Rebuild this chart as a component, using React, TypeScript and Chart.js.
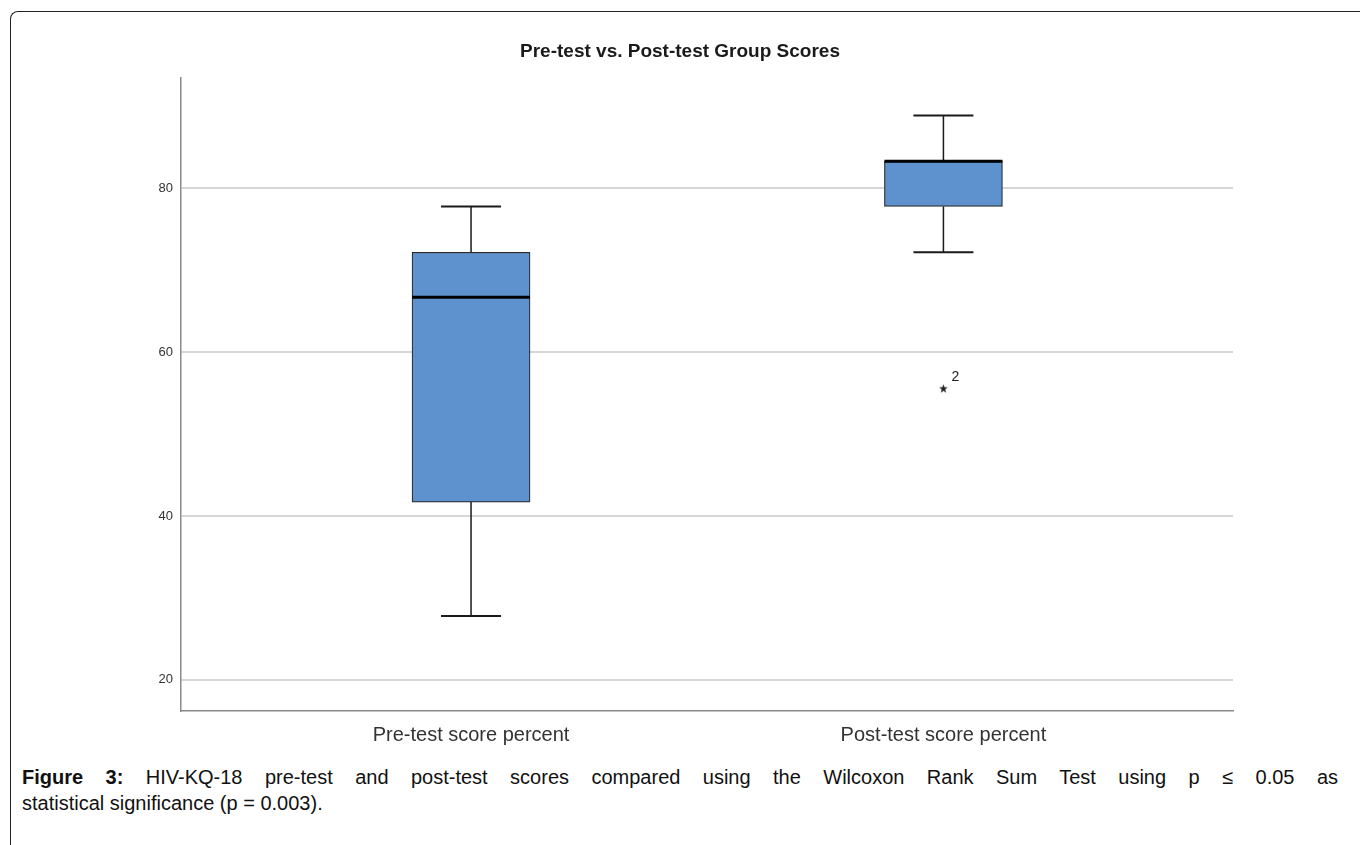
import React, { useEffect, useRef } from "react";
import { Chart, registerables } from "chart.js";

Chart.register(...registerables);

// Box plot summaries for the HIV-KQ-18 percent scores
const categories = ["Pre-test score percent", "Post-test score percent"];
const whiskerLow = [27.8, 72.2];
const quartile1 = [41.7, 77.8];
const medians = [66.7, 83.3];
const quartile3 = [72.2, 83.3];
const whiskerHigh = [77.8, 88.9];
const outlierGroup = [2];
const outlierValue = [55.6];
const outlierCase = ["2"];
const yTicks = [20, 40, 60, 80];

const BOX_FILL = "#5e92cf";
const INK = "#1a1a1a";
const SANS = "'Liberation Sans', Arial, sans-serif";

function makeStar(size: number): HTMLCanvasElement {
  const c = document.createElement("canvas");
  c.width = size;
  c.height = size;
  const ctx = c.getContext("2d")!;
  const cx = size / 2;
  const cy = size / 2 + 0.5;
  const ro = size / 2;
  const ri = ro * 0.42;
  ctx.beginPath();
  for (let i = 0; i < 10; i++) {
    const r = i % 2 === 0 ? ro : ri;
    const a = -Math.PI / 2 + (i * Math.PI) / 5;
    const x = cx + r * Math.cos(a);
    const y = cy + r * Math.sin(a);
    if (i === 0) ctx.moveTo(x, y);
    else ctx.lineTo(x, y);
  }
  ctx.closePath();
  ctx.fillStyle = "#222";
  ctx.fill();
  return c;
}

// Whiskers, caps, medians and the outlier case label
const boxExtras = {
  id: "boxExtras",
  afterDatasetsDraw(chart: any) {
    const { ctx, scales } = chart;
    const xs = scales.x;
    const ys = scales.y;
    const boxHalf = 59;
    const capHalf = 30;
    ctx.save();
    categories.forEach((_, i) => {
      const x = xs.getPixelForValue(i + 1);
      const yLo = ys.getPixelForValue(whiskerLow[i]);
      const yQ1 = ys.getPixelForValue(quartile1[i]);
      const yQ3 = ys.getPixelForValue(quartile3[i]);
      const yHi = ys.getPixelForValue(whiskerHigh[i]);
      const yMed = ys.getPixelForValue(medians[i]);
      ctx.strokeStyle = INK;
      ctx.lineWidth = 1.5;
      ctx.beginPath();
      ctx.moveTo(x, yQ1);
      ctx.lineTo(x, yLo);
      ctx.moveTo(x, yQ3);
      ctx.lineTo(x, yHi);
      ctx.stroke();
      ctx.lineWidth = 2;
      ctx.beginPath();
      ctx.moveTo(x - capHalf, yLo);
      ctx.lineTo(x + capHalf, yLo);
      ctx.moveTo(x - capHalf, yHi);
      ctx.lineTo(x + capHalf, yHi);
      ctx.stroke();
      ctx.strokeStyle = "#000";
      ctx.lineWidth = 3;
      ctx.beginPath();
      ctx.moveTo(x - boxHalf, yMed);
      ctx.lineTo(x + boxHalf, yMed);
      ctx.stroke();
    });
    ctx.fillStyle = "#222";
    ctx.font = "14px " + SANS;
    ctx.textAlign = "left";
    ctx.textBaseline = "middle";
    outlierValue.forEach((v, i) => {
      const x = xs.getPixelForValue(outlierGroup[i]);
      const y = ys.getPixelForValue(v);
      ctx.fillText(outlierCase[i], x + 8, y - 11);
    });
    ctx.restore();
  },
};

function BoxChart() {
  const ref = useRef<HTMLCanvasElement>(null);
  useEffect(() => {
    if (!ref.current) return;
    const star = makeStar(9);
    const chart = new Chart(ref.current, {
      type: "bar",
      data: {
        datasets: [
          {
            type: "bar",
            data: categories.map((_, i) => ({ x: i + 1, y: [quartile1[i], quartile3[i]] })) as any,
            backgroundColor: BOX_FILL,
            borderColor: "#2a2a2a",
            borderWidth: 1.2,
            borderSkipped: false,
            barThickness: 118,
          } as any,
          {
            type: "scatter",
            data: outlierValue.map((v, i) => ({ x: outlierGroup[i], y: v })),
            pointStyle: star as any,
            pointRadius: 5,
          } as any,
        ],
      },
      options: {
        animation: false,
        responsive: true,
        maintainAspectRatio: false,
        events: [],
        layout: { padding: 0 },
        plugins: {
          legend: { display: false },
          tooltip: { enabled: false },
          title: {
            display: true,
            text: "Pre-test vs. Post-test Group Scores",
            color: "#1a1a1a",
            font: { family: SANS, size: 19, weight: "bold" },
            padding: { top: 40, bottom: 15 },
          },
        },
        scales: {
          x: {
            type: "linear",
            offset: false,
            min: 0.386,
            max: 2.613,
            grid: { display: false, drawTicks: false },
            border: { display: true, color: "#8a8a8a", width: 1.5 },
            afterBuildTicks: (axis: any) => {
              axis.ticks = categories.map((_, i) => ({ value: i + 1 }));
            },
            afterFit: (axis: any) => {
              axis.height = 49;
            },
            ticks: {
              padding: 12,
              color: "#333",
              font: { family: SANS, size: 20 },
              callback: (v: any) => categories[Number(v) - 1] ?? "",
            },
          },
          y: {
            type: "linear",
            min: 16.2,
            max: 93.5,
            grid: { color: "#d6d6d6", lineWidth: 2, drawTicks: false },
            border: { display: true, color: "#8a8a8a", width: 1.5 },
            afterBuildTicks: (axis: any) => {
              axis.ticks = yTicks.map((v) => ({ value: v }));
            },
            afterFit: (axis: any) => {
              axis.width = 181;
            },
            ticks: {
              padding: 8,
              color: "#333",
              font: { family: SANS, size: 13 },
            },
          },
          // empty right-hand margin so the title stays centred on the figure
          yRight: {
            type: "linear",
            position: "right",
            display: true,
            grid: { display: false, drawTicks: false },
            border: { display: false },
            ticks: { display: false },
            afterFit: (axis: any) => {
              axis.width = 127;
            },
          },
        },
      } as any,
      plugins: [boxExtras],
    });
    return () => chart.destroy();
  }, []);
  return (
    <div style={{ position: "absolute", left: 0, top: 0, width: 1360, height: 760 }}>
      <canvas ref={ref} />
    </div>
  );
}

export default function App() {
  const captionFont = {
    fontFamily: SANS,
    fontSize: 20,
    lineHeight: "26px",
    color: "#111",
  };
  return (
    <div
      style={{
        position: "fixed",
        inset: 0,
        overflow: "hidden",
        background: "#fff",
      }}
    >
      <div
        style={{
          position: "absolute",
          left: 10,
          top: 11,
          width: 1400,
          height: 900,
          borderLeft: "1px solid #222",
          borderTop: "1px solid #222",
          borderTopLeftRadius: 8,
        }}
      />
      <BoxChart />
      <div style={{ position: "absolute", left: 22, top: 764, width: 1316, ...captionFont }}>
        <div style={{ textAlign: "justify", textAlignLast: "justify", whiteSpace: "nowrap" as any }}>
          <b>Figure 3:</b> HIV-KQ-18 pre-test and post-test scores compared using the Wilcoxon Rank Sum Test using p ≤ 0.05 as
        </div>
        <div>statistical significance (p = 0.003).</div>
      </div>
    </div>
  );
}
